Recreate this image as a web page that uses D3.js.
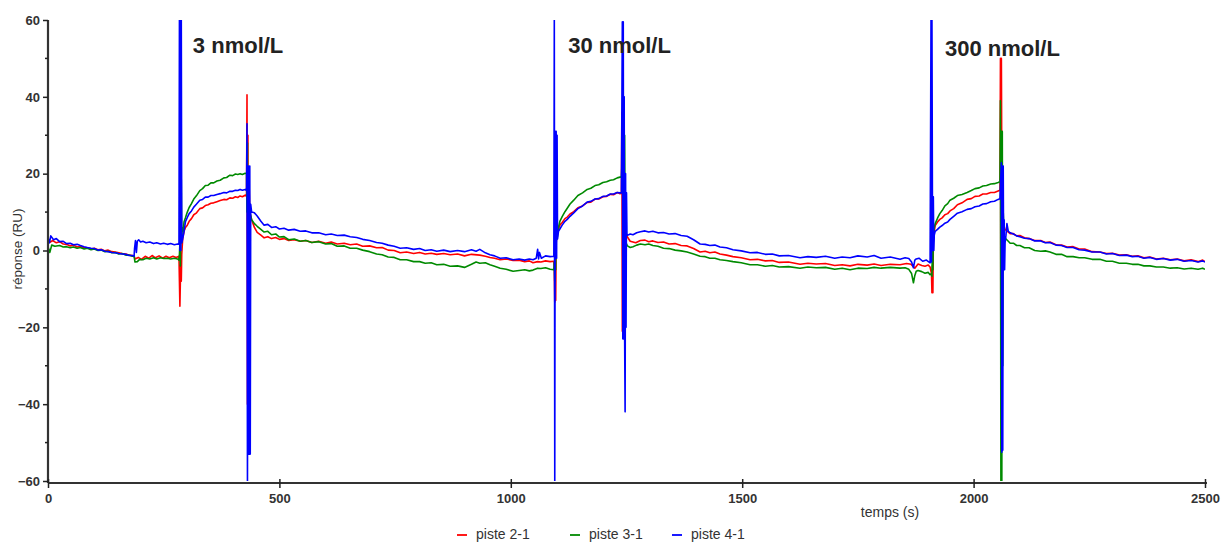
<!DOCTYPE html>
<html><head><meta charset="utf-8">
<script src="https://cdn.jsdelivr.net/npm/d3@7"></script>
<style>
html,body{margin:0;padding:0;background:#fff;}
svg{display:block;font-family:"Liberation Sans",Arial,sans-serif;}
</style></head>
<body><svg id="c" width="1221" height="542"></svg>
<script>
// ---- data (time s, response RU) ----
const piste21 = [[0,3.0],[5,2.2],[10,2.6],[18,2.0],[25,2.3],[33,1.7],[40,1.6],[48,1.2],[55,1.4],[63,0.9],[70,1.1],[78,0.7],[85,0.7],[93,0.4],[100,0.6],[108,0.2],[115,0.3],[123,-0.1],[130,0.1],[138,-0.3],[145,-0.4],[153,-0.6],[160,-0.8],[168,-0.9],[175,-1.2],[182,-1.3],[186,-1.4],[188,-2.2],[195,-1.8],[202,-2.3],[210,-1.5],[218,-2.0],[225,-1.3],[232,-1.9],[240,-1.4],[248,-2.0],[255,-1.5],[262,-1.9],[270,-1.5],[277,-1.8],[283,-1.5],
[284,-8],[285,-14.5],[286,-8],[287,-3],[288,-8],[289,-1],[291,3],[294,5],[297,6],
[301,6.6],[305,7.6],[310,8.3],[315,9.3],[321,9.8],[328,10.9],[334,11.1],[340,11.7],[346,11.9],[352,12.3],[358,12.4],[365,12.7],[372,13.0],[380,13.3],[386,13.2],[393,13.7],[399,13.6],[405,14.0],[410,13.8],[415,14.2],[420,14.0],[426,14.4],[429,14.1],
[430,40.5],[431,-40],[432,30],[433,-40],[434,20],[436,10],[440,8],[446,6],[452,4.7],
[460,4.0],[467,3.3],[475,3.6],[483,3.1],[492,3.4],[500,2.9],[510,3.1],[520,2.6],[532,2.8],[545,2.4],[557,2.6],[570,2.1],[585,2.4],[600,1.9],[612,2.2],[625,1.7],[640,1.9],[653,1.5],[667,1.7],[680,1.1],[695,1.2],[710,0.7],[722,0.8],[735,0.1],[748,0.0],[761,-0.6],[775,-0.4],[790,-0.8],[803,-0.5],[815,-0.9],[828,-0.7],[840,-1.0],[855,-0.8],[869,-1.1],[885,-0.9],[900,-1.4],[915,-1.0],[933,-1.2],[945,-1.5],[955,-1.8],[965,-2.0],[977,-2.4],[990,-2.2],[1005,-2.6],[1018,-2.5],[1030,-2.9],[1040,-2.7],[1048,-3.2],[1058,-2.9],[1065,-3.0],[1075,-2.7],[1085,-2.9],[1093,-2.8],
[1094,-5],[1095,-13.5],[1096,-3],[1097,-13],[1098,2],[1100,4.5],
[1103,5.6],[1106,6.6],[1111,7.3],[1117,8.3],[1122,8.7],[1128,9.5],[1136,10.1],[1145,11.1],[1155,11.6],[1165,12.5],[1173,12.6],[1182,13.4],[1190,13.4],[1199,14.0],[1207,14.1],[1215,14.6],[1222,14.5],[1230,15.1],[1236,14.8],[1239,14.9],
[1240,36],[1241,-21],[1242,36],[1243,-21],[1244,20],[1246,8],[1248,5],[1252,3.5],[1258,2.4],
[1264,2.2],[1270,2.0],[1280,2.6],[1290,2.7],[1298,2.3],[1307,2.5],[1318,2.1],[1330,2.2],[1342,1.7],[1355,1.8],[1368,1.3],[1381,1.2],[1395,0.5],[1409,-0.4],[1420,-0.2],[1430,-0.6],[1441,-0.4],[1452,-0.9],[1466,-1.2],[1480,-1.6],[1498,-1.9],[1517,-2.4],[1533,-2.3],[1550,-2.7],[1565,-2.6],[1580,-3.1],[1600,-3.0],[1625,-3.6],[1642,-3.3],[1660,-3.5],[1680,-3.4],[1700,-3.9],[1716,-3.7],[1733,-4.0],[1750,-3.6],[1770,-3.8],[1785,-3.5],[1800,-3.9],[1820,-3.6],[1841,-3.7],[1855,-3.4],[1865,-3.6],[1873,-4.6],[1880,-3.5],[1888,-3.9],[1895,-4.1],[1902,-3.8],[1906,-4.3],
[1909,-6],[1910,-11],[1911,-4],[1912,-11],[1913,2],[1915,5],[1917,6.5],
[1922,7.4],[1927,8.1],[1932,8.5],[1938,9.3],[1944,9.6],[1949,10.3],[1957,10.9],[1965,11.9],[1975,12.4],[1986,13.3],[1995,13.5],[2003,14.1],[2012,14.2],[2020,14.7],[2028,14.7],[2037,15.1],[2045,15.1],[2053,15.5],[2057,15.7],
[2058,50],[2059,-40],[2060,50],[2061,20],[2062,5],[2064,7],[2068,5.5],
[2073,5.0],[2079,4.4],[2086,4.4],[2093,3.8],[2100,3.9],[2110,3.3],[2120,3.1],[2132,2.6],[2145,2.6],[2155,2.1],[2165,2.2],[2178,1.5],[2190,1.4],[2202,0.9],[2215,1.0],[2228,0.4],[2240,0.4],[2256,-0.3],[2273,-0.4],[2287,-0.8],[2300,-0.7],[2315,-1.2],[2330,-1.1],[2343,-1.5],[2355,-1.4],[2368,-1.9],[2381,-1.7],[2395,-2.2],[2410,-2.0],[2425,-2.4],[2440,-2.2],[2455,-2.7],[2470,-2.4],[2485,-2.9],[2495,-2.5],[2500,-2.9]];

const piste31 = [[0,1.0],[4,-0.5],[8,1.4],[15,1.1],[25,1.3],[33,0.9],[40,1.0],[48,0.7],[55,0.9],[63,0.6],[70,0.8],[78,0.4],[85,0.6],[93,0.2],[100,0.4],[108,0.0],[115,0.1],[123,-0.3],[130,-0.2],[138,-0.6],[145,-0.5],[153,-0.9],[160,-0.8],[168,-1.2],[175,-1.2],[182,-1.5],[186,-1.5],[188,-3.0],[193,-2.9],[198,-2.3],[205,-2.4],[212,-2.0],[220,-2.2],[228,-1.9],[235,-2.2],[243,-1.9],[250,-2.1],[258,-2.0],[265,-2.2],[273,-2.0],[280,-2.2],[283,-2.5],
[284,-1],[285,2],[286,-4],[288,18.5],[289,2],[290,6],[292,5],[294,7.5],[297,8.5],
[301,10.0],[305,11.2],[310,12.2],[315,13.4],[321,14.3],[328,15.6],[334,16.1],[340,16.9],[346,17.0],[352,17.6],[358,17.6],[365,18.1],[372,18.3],[380,18.9],[386,19.0],[393,19.6],[399,19.5],[405,19.9],[410,19.8],[415,20.0],[420,19.8],[426,20.1],[429,20.0],
[430,10],[431,28],[432,-9],[433,20],[434,-9],[435,-5],[436,10],[440,8],[446,7],[452,6.3],
[460,5.5],[467,4.8],[475,5.0],[483,4.1],[492,4.3],[500,3.5],[510,3.6],[520,2.8],[532,3.0],[545,2.4],[557,2.6],[570,2.1],[585,2.3],[600,1.7],[612,1.8],[625,1.1],[640,1.2],[653,0.6],[667,0.6],[680,0.1],[695,-0.3],[710,-0.9],[722,-1.1],[735,-1.7],[748,-1.8],[761,-2.4],[775,-2.4],[790,-2.9],[803,-2.9],[815,-3.3],[828,-3.2],[840,-3.7],[855,-3.6],[869,-4.1],[885,-4.0],[900,-4.4],[915,-3.6],[925,-3.0],[933,-3.3],[945,-3.2],[955,-3.7],[965,-4.1],[977,-4.6],[990,-4.9],[1005,-5.4],[1018,-5.2],[1030,-5.0],[1040,-5.3],[1048,-5.1],[1058,-4.6],[1065,-4.7],[1075,-4.5],[1085,-4.9],[1093,-5.0],
[1094,-3],[1095,-8],[1096,4],[1097,-5],[1098,4],[1099,10],[1100,3],
[1103,6.0],[1106,7.6],[1111,8.8],[1117,10.1],[1122,11.0],[1128,12.1],[1136,13.1],[1145,14.3],[1155,15.0],[1165,15.9],[1173,16.2],[1182,16.9],[1190,17.1],[1199,17.7],[1207,17.9],[1215,18.3],[1222,18.4],[1230,18.9],[1236,19.1],[1239,19.2],
[1244,32],[1245,10],[1246,30],[1247,5],[1249,2],
[1252,1.2],[1258,0.8],[1264,1.0],[1272,1.4],[1280,1.7],[1290,1.5],[1298,1.7],[1307,1.3],[1318,1.1],[1330,0.6],[1342,0.5],[1355,0.1],[1368,-0.1],[1381,-0.4],[1395,-0.9],[1409,-1.5],[1420,-1.6],[1430,-2.0],[1441,-2.0],[1452,-2.4],[1466,-2.6],[1480,-2.9],[1498,-3.2],[1517,-3.7],[1533,-3.7],[1550,-4.1],[1565,-3.9],[1580,-4.3],[1600,-4.2],[1625,-4.6],[1642,-4.3],[1660,-4.5],[1680,-4.4],[1700,-4.9],[1716,-4.6],[1733,-5.0],[1750,-4.6],[1770,-4.7],[1785,-4.4],[1800,-4.6],[1820,-4.4],[1841,-4.6],[1852,-4.5],[1860,-4.9],[1866,-6.0],[1870,-8.4],[1873,-6.5],[1876,-5.4],[1880,-5.2],[1888,-5.5],[1895,-5.9],[1902,-5.7],[1906,-6.3],
[1909,-6],[1910,-6.7],[1911,2],[1912,-5],[1913,4],[1915,6],[1917,7.0],
[1922,8.4],[1927,9.6],[1932,10.4],[1938,11.6],[1944,12.2],[1949,13.1],[1957,13.6],[1965,14.3],[1975,14.6],[1986,15.1],[1995,15.6],[2003,16.1],[2012,16.3],[2020,16.8],[2028,16.9],[2037,17.3],[2045,17.4],[2053,17.7],[2057,17.9],
[2058,39],[2059,-60],[2060,31],[2061,-60],[2062,31],[2063,-30],[2064,10],[2066,4],[2070,3],
[2075,2.4],[2079,1.9],[2086,1.9],[2093,1.3],[2100,1.3],[2110,0.7],[2120,0.7],[2132,0.0],[2145,-0.2],[2155,-0.1],[2165,-0.4],[2178,-1.0],[2190,-1.0],[2202,-1.6],[2215,-1.6],[2228,-1.9],[2240,-1.9],[2256,-2.3],[2273,-2.3],[2287,-2.8],[2300,-2.8],[2315,-3.3],[2330,-3.3],[2343,-3.6],[2355,-3.6],[2368,-4.0],[2381,-4.0],[2395,-4.3],[2410,-4.3],[2425,-4.6],[2440,-4.5],[2455,-4.8],[2470,-4.6],[2485,-4.9],[2495,-4.6],[2500,-4.9]];

const piste41 = [[0,3.4],[3,2.0],[6,3.8],[12,2.8],[18,3.1],[25,2.3],[33,2.4],[40,1.8],[48,1.9],[55,1.5],[63,1.6],[70,1.3],[78,1.0],[85,0.8],[93,0.6],[100,0.5],[108,0.1],[115,0.2],[123,-0.2],[130,-0.3],[138,-0.5],[145,-0.6],[153,-0.8],[160,-0.9],[168,-1.0],[175,-1.3],[182,-1.3],[186,-1.5],[187,0.5],[189,2.6],[191,-0.5],[193,2.4],[196,2.8],[200,2.2],[205,2.4],[212,2.0],[220,2.2],[228,1.8],[235,2.0],[243,1.7],[250,1.9],[258,1.6],[265,1.8],[273,1.5],[280,1.7],[283,1.6],
[284,60],[285,0],[286,60],[287,0],[288,60],[289,2],[291,3.0],[294,5.0],[297,7.5],
[301,8.6],[305,9.6],[310,10.3],[315,11.3],[321,12.1],[328,13.1],[334,13.3],[340,13.9],[346,13.9],[352,14.3],[358,14.3],[365,14.6],[372,14.8],[380,15.1],[386,15.0],[393,15.4],[399,15.4],[405,15.7],[410,15.6],[415,15.9],[420,15.7],[426,15.9],[429,15.6],
[430,33],[431,-60],[432,22],[433,-53],[434,22],[435,-53],[436,22],[437,-53],[438,12],[440,10],[446,9.8],[452,9.0],
[460,7.6],[467,6.6],[475,6.8],[483,6.0],[492,6.2],[500,5.6],[510,5.8],[520,5.3],[532,5.5],[545,5.0],[557,5.1],[570,4.6],[585,4.6],[600,4.1],[612,4.3],[625,3.9],[640,4.0],[653,3.6],[667,3.4],[680,2.9],[695,2.6],[710,2.1],[722,1.9],[735,1.4],[748,1.1],[761,0.6],[775,0.7],[790,0.3],[803,0.5],[815,0.0],[828,0.2],[840,-0.2],[855,0.1],[869,-0.3],[885,0.0],[900,-0.3],[915,0.2],[925,-0.2],[933,0.3],[945,-0.6],[955,-1.1],[965,-1.4],[977,-2.0],[990,-1.9],[1005,-2.4],[1018,-2.2],[1030,-2.5],[1040,-2.2],[1048,-2.4],[1055,-2.0],[1058,0.3],[1060,-2.2],[1062,-0.5],[1066,-2.0],[1075,-1.4],[1085,-1.6],[1093,-1.5],
[1094,60],[1095,-60],[1096,31],[1097,-2],[1098,31],[1099,-2],[1100,30],[1101,3],[1103,5.0],
[1106,5.6],[1111,6.6],[1117,7.6],[1122,8.1],[1128,8.9],[1136,9.8],[1145,10.9],[1155,11.6],[1165,12.6],[1173,12.8],[1182,13.4],[1190,13.5],[1199,14.1],[1207,14.2],[1215,14.7],[1222,14.7],[1230,15.1],[1236,15.0],[1239,15.0],
[1241,59.5],[1242,-23],[1243,59.5],[1244,-23],[1245,40],[1246,-23],[1247,-42],[1248,20],[1249,-20],[1250,15],[1251,4],[1253,4],
[1258,4.3],[1264,4.1],[1272,4.6],[1280,4.9],[1290,5.1],[1298,4.8],[1307,5.0],[1318,4.6],[1330,4.7],[1342,4.3],[1355,4.4],[1368,3.9],[1381,3.7],[1395,2.8],[1409,1.7],[1420,1.6],[1430,1.3],[1441,1.4],[1452,0.9],[1466,0.7],[1480,0.2],[1498,-0.1],[1517,-0.6],[1533,-0.5],[1550,-1.0],[1565,-0.9],[1580,-1.4],[1600,-1.3],[1625,-1.9],[1642,-1.6],[1660,-1.8],[1680,-1.5],[1700,-2.0],[1716,-1.7],[1733,-1.9],[1750,-1.4],[1770,-1.7],[1785,-1.3],[1800,-2.0],[1820,-1.7],[1841,-2.3],[1852,-1.9],[1860,-2.1],[1866,-3.0],[1870,-4.5],[1873,-2.5],[1876,-2.2],[1882,-2.0],[1890,-2.8],[1898,-2.5],[1906,-3.2],
[1908,60],[1909,-3],[1910,60],[1911,14],[1912,0],[1913,14],[1914,0],[1915,4],[1917,5.0],
[1922,5.5],[1927,6.1],[1932,6.5],[1938,7.1],[1944,7.4],[1949,8.1],[1957,8.9],[1965,9.7],[1975,10.1],[1986,10.7],[1995,10.9],[2003,11.4],[2012,11.6],[2020,12.1],[2028,12.2],[2037,12.7],[2045,12.8],[2053,13.3],[2057,13.5],
[2060,22.8],[2061,-52.5],[2062,22],[2063,-52],[2064,22],[2065,-5],[2066,8],[2067,-5],[2068,2],[2070,4],[2072,7],[2075,5],
[2079,4.6],[2086,4.3],[2093,3.8],[2100,3.6],[2110,3.2],[2120,3.1],[2132,2.5],[2145,2.5],[2155,2.0],[2165,2.1],[2178,1.4],[2190,1.3],[2202,0.8],[2215,0.8],[2228,0.2],[2240,0.1],[2256,-0.4],[2273,-0.4],[2287,-0.9],[2300,-0.8],[2315,-1.3],[2330,-1.2],[2343,-1.6],[2355,-1.5],[2368,-2.0],[2381,-1.8],[2395,-2.3],[2410,-2.1],[2425,-2.5],[2440,-2.3],[2455,-2.8],[2470,-2.6],[2485,-3.0],[2495,-2.7],[2500,-3.0]];

const seriesNames = ["piste 2-1","piste 3-1","piste 4-1"];
const seriesColors = ["#ff0000","#008a00","#0000ff"];
const yTicks = [-60,-40,-20,0,20,40,60];
const yMinor = [-50,-30,-10,10,30,50];
const xTicks = [0,500,1000,1500,2000,2500];
const annotations = [["3 nmol/L",313,51.5],["30 nmol/L",1124,51.5],["300 nmol/L",1938,50.5]];

// ---- drawing ----
const svg = d3.select("#c");
const x = d3.scaleLinear().domain([0,2500]).range([48,1205]);
const y = d3.scaleLinear().domain([-60,60]).range([481,20]);
const axisY = 483;

svg.append("defs").append("clipPath").attr("id","clip")
  .append("rect").attr("x",48).attr("y",20).attr("width",1157).attr("height",461);

const line = d3.line().x(d=>x(d[0])).y(d=>y(d[1]));
const g = svg.append("g").attr("clip-path","url(#clip)");
[piste21,piste31,piste41].forEach((s,i)=>{
  g.append("path").datum(s).attr("d",line).attr("fill","none")
   .attr("stroke",seriesColors[i]).attr("stroke-width",1.6).attr("stroke-linejoin","round");
});

// Y axis
const fontAx = "'Liberation Sans Narrow','Liberation Sans',Arial,sans-serif";
const ya = svg.append("g").attr("transform","translate(48,0)")
  .call(d3.axisLeft(y).tickValues(yTicks).tickSize(5).tickPadding(3));
ya.select(".domain").attr("d",`M0,20V${axisY}`).attr("stroke","#333").attr("stroke-width",2.2);
ya.selectAll(".tick line").attr("stroke","#222").attr("stroke-width",1.5);
ya.selectAll("text").attr("font-size",13).attr("font-weight","bold").attr("fill","#333").attr("font-family",fontAx);
svg.append("g").selectAll("line").data(yMinor).join("line")
  .attr("x1",45).attr("x2",48).attr("y1",d=>y(d)).attr("y2",d=>y(d))
  .attr("stroke","#222").attr("stroke-width",1.5);

// X axis
const xa = svg.append("g").attr("transform",`translate(0,${axisY})`)
  .call(d3.axisBottom(x).tickValues(xTicks).tickSize(5).tickPadding(6).tickFormat(d3.format("d")));
xa.select(".domain").attr("d","M48,0H1207").attr("stroke","#333").attr("stroke-width",2.2);
xa.selectAll(".tick line").attr("y1",-4).attr("y2",5).attr("stroke","#222").attr("stroke-width",1.5);
xa.selectAll("text").attr("font-size",13).attr("font-weight","bold").attr("fill","#333").attr("font-family",fontAx);

// axis titles
svg.append("text").attr("transform","translate(22,249) rotate(-90)").attr("text-anchor","middle")
  .attr("font-size",13.5).attr("fill","#333").text("réponse (RU)");
svg.append("text").attr("x",890).attr("y",517).attr("text-anchor","middle")
  .attr("font-size",14).attr("fill","#333").text("temps (s)");

// annotations
svg.append("g").selectAll("text").data(annotations).join("text")
  .attr("x",d=>x(d[1])).attr("y",d=>y(d[2]))
  .attr("font-size",22).attr("font-weight","bold").attr("fill","#222").text(d=>d[0]);

// legend
const legX = [457,570,672];
const lg = svg.append("g").selectAll("g").data(seriesNames).join("g")
  .attr("transform",(d,i)=>`translate(${legX[i]},535)`);
lg.append("line").attr("x1",0).attr("x2",10).attr("stroke",(d,i)=>seriesColors[i]).attr("stroke-width",1.8);
lg.append("text").attr("x",19).attr("y",4).attr("font-size",14).attr("fill","#333").text(d=>d);
</script></body></html>
